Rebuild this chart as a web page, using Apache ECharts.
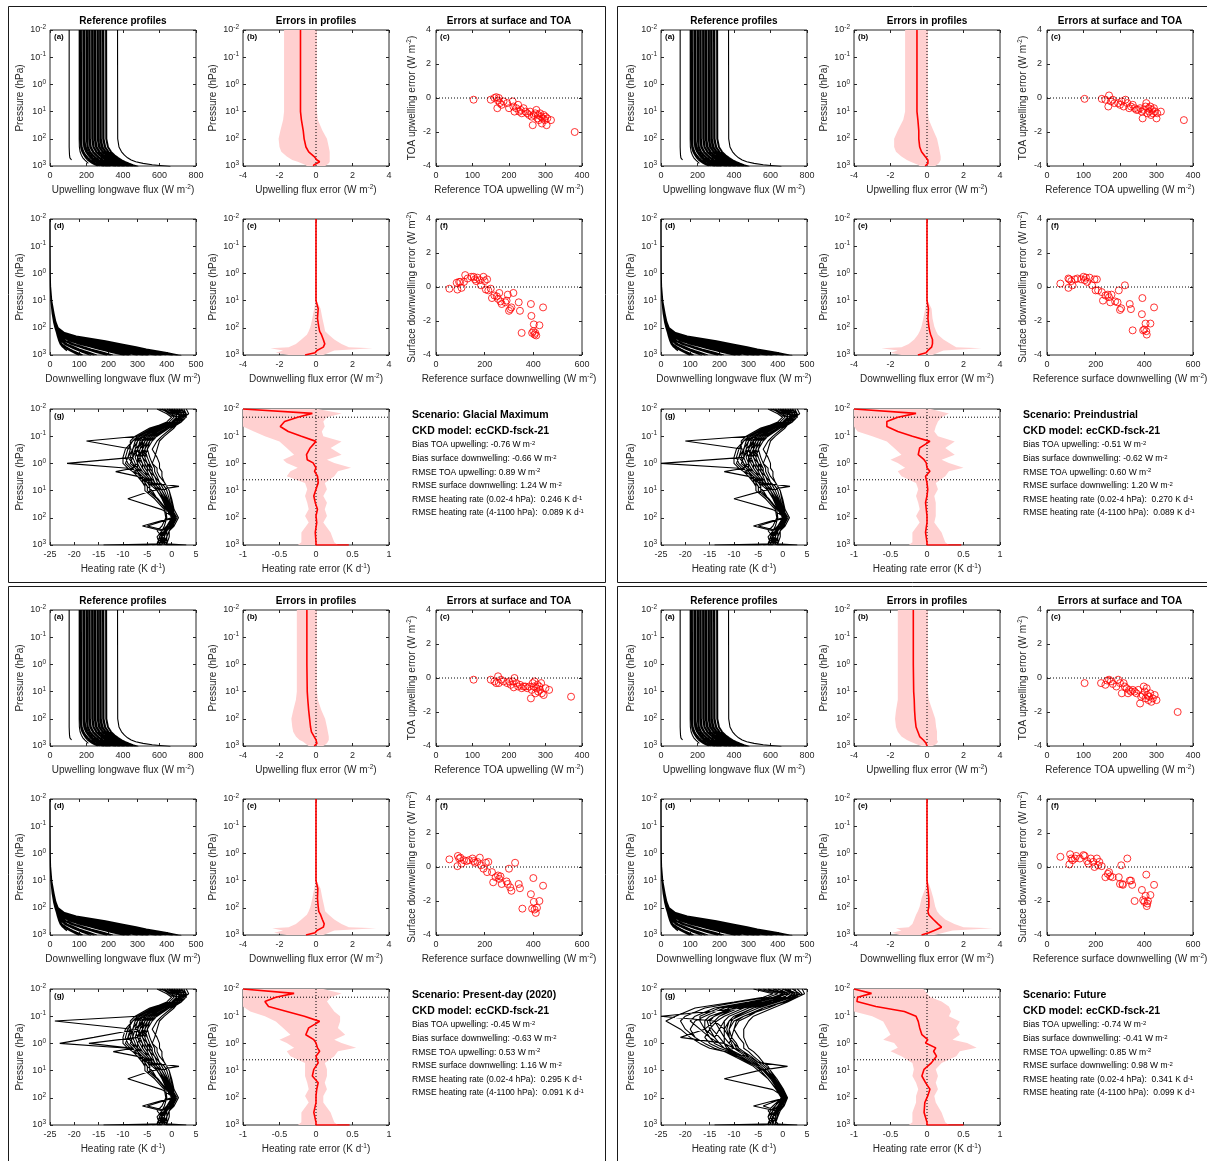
<!DOCTYPE html>
<html>
<head>
<meta charset="utf-8">
<script src="https://cdn.jsdelivr.net/npm/echarts@6/dist/echarts.min.js"></script>
<style>
  html, body { margin: 0; padding: 0; background: #fff; }
  #main { width: 1207px; height: 1161px; }
</style>
</head>
<body>
<div id="main"></div>
<script>
// ---- scenario text ----
const SCENARIOS = ['Glacial Maximum', 'Preindustrial', 'Present-day (2020)', 'Future'];
const CKD_MODEL = 'ecCKD-fsck-21';
// bias TOA up, bias sfc down, rmse TOA up, rmse sfc down, rmse hr 0.02-4, rmse hr 4-1100
const STATS_GM = [-0.76, -0.66, 0.89, 1.24, 0.246, 0.089];
const STATS_PI = [-0.51, -0.62, 0.60, 1.20, 0.270, 0.089];
const STATS_PD = [-0.45, -0.63, 0.53, 1.16, 0.295, 0.091];
const STATS_FU = [-0.74, -0.41, 0.85, 0.98, 0.341, 0.099];

// ---- reference upwelling profiles (flux at each pressure level, null = below ground) ----
const P_UP = [0.01, 100, 200, 300, 400, 500, 600, 700, 800, 900, 1000, 1050];
const UP_PROFILES = [
  [105, 105, 105, 106, 107, 109, 118, null, null, null, null, null],
  [160, 160, 161, 165, 172, 180, 190, 200, 210, null, null, null],
  [165, 166, 168, 175, 185, 195, 205, 218, 230, 245, 262, null],
  [168, 169, 172, 180, 191, 203, 214, 227, 240, 256, 273, null],
  [172, 173, 176, 185, 197, 210, 222, 235, 250, 268, 285, 295],
  [180, 181, 185, 195, 208, 220, 232, 246, 262, 280, 300, 310],
  [185, 186, 190, 201, 215, 228, 241, 255, 272, 290, 310, 320],
  [190, 191, 196, 208, 222, 236, 250, 265, 282, 300, 320, 330],
  [198, 199, 203, 215, 230, 245, 260, 276, 295, 315, 335, null],
  [201, 202, 206, 218, 234, 250, 265, 282, 301, 322, 344, 354],
  [205, 206, 210, 222, 238, 254, 270, 288, 308, 330, 352, 362],
  [212, 213, 218, 232, 248, 265, 282, 300, 320, 342, 365, 375],
  [216, 217, 222, 236, 253, 270, 287, 305, 325, 347, 370, 380],
  [220, 221, 226, 240, 258, 275, 292, 310, 330, 352, 375, 385],
  [228, 229, 235, 250, 268, 286, 304, 322, 342, 364, 388, 398],
  [232, 233, 239, 254, 272, 291, 310, 328, 348, 371, 394, 404],
  [235, 236, 242, 258, 277, 296, 315, 334, 355, 378, 400, 410],
  [242, 243, 250, 266, 286, 305, 325, 345, 366, 390, 413, 423],
  [246, 247, 254, 270, 290, 310, 330, 350, 371, 395, 419, 429],
  [250, 251, 258, 275, 295, 315, 335, 355, 377, 400, 425, 435],
  [258, 259, 266, 284, 304, 324, 344, 365, 387, 410, 435, 445],
  [261, 262, 270, 288, 308, 328, 349, 370, 392, 416, 441, 451],
  [265, 266, 274, 292, 313, 333, 354, 375, 398, 422, 447, 457],
  [272, 273, 281, 300, 321, 342, 363, 384, 407, 431, 455, 465],
  [276, 277, 285, 304, 325, 346, 367, 388, 410, 434, 458, null],
  [280, 281, 290, 308, 330, 350, 371, 392, 414, 438, 462, 470],
  [288, 289, 298, 316, 337, 357, 377, 398, 420, 443, 466, 475],
  [292, 293, 302, 320, 340, 360, 380, 400, 422, 445, 468, 476],
  [295, 296, 305, 323, 343, 363, 383, 403, 425, 448, 470, 478],
  [305, 306, 315, 332, 350, 368, 386, 405, 425, 445, 465, null],
  [310, 311, 320, 337, 356, 375, 394, 414, 434, 455, 476, 484],
  [370, 371, 378, 392, 408, 425, 445, 470, 510, 560, 630, 660]
];

// ---- reference downwelling profiles ----
const P_DN = [0.01, 0.1, 1, 3, 10, 30, 60, 100, 150, 200, 300, 400, 500, 600, 700, 800, 900, 1000, 1050];
const DN_PROFILES = [
  [0, 0.1, 0.8, 2, 6, 14, 20, 28, 50, 90, 190, 250, 295, 330, 365, 395, 420, 440, 450],
  [0, 0.1, 0.75, 1.95, 5.8, 13.5, 19.5, 27.5, 48, 88, 185, 245, 290, 325, 360, 390, 415, 436, 445],
  [0, 0.1, 0.7, 1.9, 5.5, 12.5, 19, 27, 47, 85, 180, 240, 285, 320, 355, 385, 410, 432, 440],
  [0, 0.1, 0.7, 2, 5.5, 13, 19, 26, 45, 80, 175, 235, 280, 315, 348, 378, 402, 425, 435],
  [0, 0.1, 0.65, 1.7, 5, 12, 18, 25, 42, 75, 165, 225, 270, 305, 336, 365, 389, 410, 420],
  [0, 0.1, 0.7, 1.8, 5, 12, 18, 25, 40, 70, 155, 215, 260, 295, 325, 352, 376, 398, null],
  [0, 0.1, 0.6, 1.6, 4.8, 11.5, 17.5, 24, 38, 65, 142, 200, 245, 280, 310, 338, 362, 385, null],
  [0, 0.1, 0.6, 1.6, 4.5, 11, 17, 24, 36, 60, 130, 190, 235, 268, 298, 325, 348, 370, 380],
  [0, 0.1, 0.6, 1.55, 4.6, 11, 16.5, 23.5, 35, 56, 120, 178, 222, 255, 284, 310, 333, 355, 365],
  [0, 0.1, 0.6, 1.5, 4.5, 11, 16, 23, 33, 52, 110, 165, 210, 242, 270, 296, 318, 340, null],
  [0, 0.1, 0.55, 1.45, 4.2, 10.5, 16, 22.5, 32, 48, 100, 152, 196, 228, 256, 282, 304, 325, 335],
  [0, 0.1, 0.6, 1.5, 4, 10, 16, 22, 31, 45, 92, 140, 183, 215, 243, 268, 290, 310, 320],
  [0, 0.1, 0.5, 1.4, 4.2, 10, 15.5, 22, 30, 42, 85, 130, 170, 200, 228, 252, 274, 293, 300],
  [0, 0.1, 0.5, 1.4, 4, 10, 15, 21, 29, 40, 78, 120, 160, 190, 215, 238, 258, 276, null],
  [0, 0.1, 0.5, 1.35, 3.9, 9.8, 15, 21, 28.5, 38, 70, 110, 148, 176, 201, 224, 244, 262, 270],
  [0, 0.1, 0.5, 1.3, 3.8, 9.5, 15, 21, 28, 37, 65, 100, 135, 163, 188, 210, 230, 248, 255],
  [0, 0.1, 0.5, 1.3, 3.5, 9, 14, 20, 27, 34, 55, 85, 115, 140, 163, 183, 200, 215, null],
  [0, 0.1, 0.5, 1.25, 3.6, 9.2, 14.5, 20.5, 26.5, 33, 52, 78, 106, 130, 151, 170, 187, 202, 208],
  [0, 0.1, 0.5, 1.2, 3.5, 9, 14, 20, 26, 32, 48, 72, 98, 120, 140, 158, 175, 190, 195],
  [0, 0.1, 0.5, 1.2, 3.3, 8.5, 13, 19, 25, 30, 42, 60, 82, 100, 118, 134, 148, 160, null],
  [0, 0.1, 0.45, 1.15, 3.3, 8.8, 13.5, 19.5, 24.5, 29, 40, 55, 74, 91, 108, 123, 136, 148, 152],
  [0, 0.1, 0.4, 1.1, 3.2, 8.5, 13, 19, 24, 28, 37, 50, 67, 83, 98, 112, 125, 135, 140],
  [0, 0.1, 0.4, 1.1, 3, 8, 12, 18, 23, 27, 33, 42, 55, 68, 80, 92, 103, 112, null],
  [0, 0.1, 0.4, 1.05, 3, 8, 12.5, 18, 22.5, 26.5, 32, 40, 51, 62, 74, 85, 96, 104, 108],
  [0, 0.1, 0.4, 1, 3, 8, 12, 18, 22, 26, 31, 38, 47, 57, 68, 78, 88, 96, 100],
  [0, 0.1, 0.4, 1, 2.8, 7.5, 12, 17, 22, 25, 30, 35, 42, 50, 58, null, null, null, null]
];

// ---- reference heating-rate profiles ----
const P_HR = [0.01, 0.015, 0.02, 0.03, 0.05, 0.1, 0.15, 0.3, 0.6, 1, 1.5, 2, 3, 5, 7, 10, 20, 50, 100, 200, 300, 500, 900, 1000];
const HR_BASE = [
  [2, 3, 2.5, 1, -1, -3, -4, -5, -4.5, -4, -3.5, -3.5, -3, -2.5, -2, -1.5, -0.8, 0, 0.5, -0.5, -1, -1.5, -2, -1],
  [-2, 0, 1, 0.5, -2, -5, -6, -7, -7.5, -7, -6.5, -6, -5, -4, -3, -2.5, -1.5, -0.5, 0.2, -1, -1.5, -2, -2.5, -4],
  [1, 2.5, 3, 2, 0, -2, -3, -4, -3, -2.5, -2.5, -2, -2, -1.5, -1, -0.5, -0.2, 0.3, 0.8, 0, -0.5, -1, -1, 1],
  [-3, -1, 0, -1, -4, -7, -8, -9, -9.5, -9, -8, -7.5, -6.5, -5.5, -5, -5, -3, -1.2, -1, -1.5, -2, -2.5, -3, -6],
  [0, 2, 2, 1.5, -1, -4, -5, -6, -5.5, -5, -5, -4.5, -4, -3.5, -3, -2.5, -1.5, -0.5, 0.5, -0.5, -1.5, -1.5, -2, -2],
  [3, 3.5, 2.5, 1, -2, -4, -5.5, -6.5, -7, -6.5, -6, -5.5, -4.5, -3.5, -3, -2, -1, 0, 0.7, 0, -1, -2, -2.5, -3],
  [-1, 1, 2, 0.5, -3, -6, -7, -8, -8, -8.5, -7.5, -6.5, -5.5, -4.5, -3.5, -3, -2, -0.8, 0.3, -0.5, -1.5, -2.5, -1.5, 2],
  [1.5, 3, 3, 2, -0.5, -3, -4.5, -5.5, -6, -5, -4, -4, -3.5, -3, -2.5, -2, -1, -0.3, 0.8, 0.3, -0.5, -1, -1.5, -14],
  [-2.5, 0.5, 1.5, 0, -3.5, -6.5, -8, -9.5, -10, -10, -9, -8, -7, -6, -5.5, -5.5, -3.5, -1.5, -1.2, -2, -3, -2, -1, -3],
  [0.5, 1.5, 2, 1, -1.5, -5, -6.5, -7, -6, -5.5, -5.5, -5, -4.5, -4, -3, -2.5, -1.5, -0.5, 0.5, 0, -1, -1, -1.5, 0],
  [2.5, 3, 1.5, 0, -2.5, -5.5, -6, -6, -6.5, -7, -7, -6.5, -5.5, -4, -3.5, -3, -2, -0.7, 0.2, -1, -1, -2, -3, -5],
  [-1.5, 0, 0.5, -0.5, -4.5, -7.5, -8.5, -8.5, -9, -9.5, -8.5, -7, -6, -5, -4.5, -4.5, -2.8, -1, 0, -1, -2, -3, -2.5, -8],
  [1, 2.5, 2.5, 1.5, 0.5, -1.5, -2.5, -3, -3.5, -4, -3, -3, -2.5, -1.5, -1, -0.5, 0, 0.5, 1.4, 0.5, -0.5, -0.5, -1, 3],
  [-0.5, 1, 2.5, 1.5, -1.5, -4.5, -6, -7.5, -7, -6, -6, -5.5, -5, -4, -3.5, -3, -1.8, -0.6, 0.3, -0.5, -1, -1.5, -2, -2.5],
  [2, 2.5, 2, 0.5, -2, -6, -7.5, -8, -8.5, -8, -7.5, -7, -6.5, -5, -4, -3, -2, -0.8, 0, -0.8, -1.5, -2, -2, -1],
  [0, 1, 1, 0, -2.5, -4, -5, -5.5, -5, -4.5, -4.5, -4.5, -3.5, -3, -2.5, -2, -1.2, -0.4, 0.6, -0.3, -1, -1.5, -2.5, -4],
  [1.5, 2, 1.5, 0.5, -2, -4.5, -5.5, -6, -6, -5.5, -5, -5, -4.5, -3.5, -3, -2, -1.2, -0.3, 0.6, 0, -1, -1.5, -2, -2],
  [-1, 0.5, 1.5, 0.5, -3, -5.5, -7, -7.5, -8, -7.5, -7, -6, -5, -4, -3.5, -2.5, -1.5, -0.6, 0.4, -0.5, -1.5, -2, -2, 1.5],
  [2, 3, 3, 1.5, -0.5, -3.5, -5, -6, -5, -4.5, -4, -4, -3.5, -2.5, -1.5, -1, -0.5, 0.1, 1.1, 0.2, -0.5, -1, -1.5, -7],
  [-2, -0.5, 0.5, -0.5, -4, -6.5, -7.5, -8, -8.5, -8, -7.5, -7, -6, -4.5, -4, -3, -2, -0.9, 0.1, -1, -2, -2.5, -3, -2],
  [0.5, 2, 2.5, 1, -1, -3.5, -4.5, -5, -5.5, -5, -4.5, -4, -3.5, -3, -2.5, -2, -1, -0.2, 0.7, 0, -0.5, -1, -2, 1],
  [3, 3.5, 2, 0, -3, -6, -6.5, -7, -7.5, -7, -6.5, -6, -5, -4, -3, -2.5, -1.7, -0.6, 0.2, -0.8, -1.5, -1.5, -1.5, -10],
  [-0.5, 1.5, 2, 1, -2, -5, -6.5, -7, -6.5, -6, -5.5, -5, -4.5, -3.5, -3, -2.5, -1.4, -0.4, 0.5, -0.2, -1, -2, -2.5, 0],
  [1, 2.5, 2, 0.5, -1.5, -4.5, -6, -6.5, -7, -6.5, -6, -5.5, -5, -4, -3, -2.5, -1.5, -0.5, 0.4, -0.3, -1.2, -2, -2, -4]
];
const HR_GM_EXTRA = [
  [-1, 1, 1, 0, -3, -7, -17.5, -8, -9, -8, -7, -6, -5, -4, -3.5, -3, -2, -1, 0, -1, -1.5, -2, -2, -3],
  [0, 2, 2, 0.5, -2, -5, -6, -7, -8, -21.5, -9, -8, -6, -6, -5, -4, -3, -1, 0, -6, -2, -2, -2.5, -3],
  [1, 2, 2, 1, -1, -4, -5, -6, -7, -7, -8, -11.5, -7, -5, 1.5, -4, -9, -2, 0.5, -5, -1, -2, -2, 2.5]
];
const HR_PI_EXTRA = [
  [-1, 1, 1, 0, -3, -7, -20, -8, -9, -8, -7, -6, -5, -4, -3.5, -3, -2, -1, 0, -1, -1.5, -2, -2, -3],
  [0, 2, 2, 0.5, -2, -5, -6, -7, -8, -25, -9, -8, -6, -6, -5, -4, -3, -1, 0, -6, -2, -2, -2.5, -3],
  [1, 2, 2, 1, -1, -4, -5, -6, -7, -7, -8, -12, -7, -5, 1.5, -4, -10, -2, 0.5, -5, -1, -2, -2, 2.5]
];
const HR_PD_EXTRA = [
  [-1, 1, 1, 0, -3, -7, -24, -8, -9, -8, -7, -6, -5, -4, -3.5, -3, -2, -1, 0, -1, -1.5, -2, -2, -3],
  [0, 2, 2, 0.5, -2, -5, -6, -7, -16, -23, -9, -8, -6, -6, -5, -4, -3, -1, 0, -6, -2, -2, -2.5, -3],
  [1, 2, 2, 1, -1, -4, -5, -6, -7, -17, -8, -12, -7, -5, 1.5, -4, -9, -2, 0.5, -5, -1, -2, -2, 2.5]
];
const HR_FU = [
  [3, 4, 2, -1, -5, -9, -11, -12, -11, -10, -9, -8, -6.5, -5, -4, -3, -1.5, -0.3, 0.5, -0.5, -1, -1.5, -2, -1],
  [-4, 0, -2, -7, -14, -18, -19, -17, -15, -13, -12, -10, -8, -6, -5, -4, -2.5, -1, 0, -1.5, -2, -2.5, -3, -5],
  [1, 3, 3, 0, -4, -7, -9, -10, -9, -8, -8, -7, -6, -4.5, -3.5, -2.5, -1.5, 0, 0.8, 0, -1, -1.5, -1.5, 2],
  [-6, -2, -4, -10, -18, -22, -24, -21, -19, -17, -15, -12, -9, -7, -5.5, -4.5, -3, -1.2, -0.2, -2, -3, -2, -1, -8],
  [2, 3.5, 1, -2, -7, -11, -12, -13, -14, -13, -12, -10, -8, -6, -4.5, -3.5, -2, -0.5, 0.5, -0.5, -1.5, -2, -2.5, -3],
  [-1, 1.5, 0, -4, -10, -15, -16, -16, -15, -14, -12, -10.5, -8.5, -6.5, -5, -4, -2.5, -0.8, 0.2, -1, -1.5, -2.5, -2, 1],
  [4, 4.5, 3, 1, -2, -6, -7, -8, -8, -7.5, -7, -6, -5, -4, -3, -2.5, -1.2, 0.2, 1, 0.3, -0.5, -1, -1.5, -14],
  [-3, 0.5, -1, -6, -12, -16, -18, -19, -18, -16, -14, -12, -9.5, -7, -5.5, -4, -2.5, -1, 0, -1, -2, -3, -2.5, -2],
  [0, 2.5, 2, -1.5, -6, -10, -11, -11.5, -11, -10.5, -10, -9, -7.5, -5.5, -4.5, -3.5, -2, -0.5, 0.3, -0.8, -1.5, -1.5, -2, -4],
  [-2, 1, -1, -5, -11, -14, -15, -14.5, -13, -12, -11, -10, -8, -6, -4.5, -3.5, -2, -0.6, 0.4, -0.3, -1, -2, -3, 0],
  [2.5, 3, 2.5, 0, -3, -8, -9.5, -10, -10.5, -11, -10, -8.5, -7, -5, -4, -3, -1.8, -0.3, 0.6, 0, -1, -1.5, -1.5, -6],
  [-5, -1, -3, -9, -16, -20, -21, -20, -18, -16, -14, -12, -10, -7.5, -6, -5, -3, -1.3, -0.3, -1.5, -2.5, -3, -2.5, -3],
  [1.5, 2, 1.5, -2, -8, -12, -13.5, -15, -16, -15, -13, -11, -9, -6.5, -5, -4, -2.5, -0.8, 0.2, -1, -1.5, -2, -2, 3],
  [-1.5, 0, -0.5, -3, -9, -13, -14, -13, -12, -12, -11.5, -10, -8, -6, -4.5, -3.5, -2, -0.5, 0.5, 0, -1, -1.5, -2, -2],
  [0.5, 2.5, 1.5, -2, -7, -11, -12, -12, -12, -11, -10, -9, -7.5, -5.5, -4.5, -3.5, -2, -0.6, 0.4, -0.5, -1.2, -2, -2, -1.5],
  [-3, 0, -1.5, -6, -13, -17, -17, -16, -14, -13, -12, -10.5, -8.5, -6.5, -5, -4, -2.5, -0.9, 0.1, -1, -2, -2.5, -2, -3],
  [2, 3.5, 2.5, 0.5, -4, -8, -10, -11, -10.5, -9.5, -9, -8, -6.5, -5, -4, -3, -1.6, -0.2, 0.6, 0.1, -0.8, -1.2, -1.5, -9],
  [-1, 1, 0.5, -3.5, -10, -14, -15.5, -15, -14, -13, -12, -10, -8, -6, -5, -3.8, -2.2, -0.7, 0.3, -0.8, -1.5, -2, -2.5, 1.5],
  [1, 3, 2, -1, -6, -9.5, -10.5, -11, -11, -10, -9.5, -8.5, -7, -5, -4, -3, -1.8, -0.4, 0.5, -0.3, -1, -1.5, -2, -5],
  [0, 2, 1, -3, -8, -25, -14, -12, -11, -10, -9, -8, -7, -5, -4, -3, -2, -0.5, 0.3, -4, -1, -2, -2, -1],
  [-2, 1, -1, -5, -10, -13, -14, -16, -21, -12, -10, -12, -7, -5, 1, -5, -12, -2, 0.5, -6, -1.5, -2, -2, 2.5]
];

// ---- upwelling flux error profiles (median, min, max) ----
const P_UPERR = [0.01, 1, 10, 20, 50, 100, 200, 300, 450, 600, 700, 800, 900, 1000];
const UPERR_MED_GM = [-0.85, -0.85, -0.85, -0.8, -0.7, -0.65, -0.55, -0.4, -0.1, 0.05, 0.2, 0.05, -0.1, -0.15];
const UPERR_LO_GM = [-1.75, -1.75, -1.75, -1.8, -1.95, -2.05, -2.0, -1.9, -1.6, -1.3, -1.0, -0.8, -0.6, -0.5];
const UPERR_HI_GM = [0.05, 0.05, 0.05, 0.1, 0.35, 0.6, 0.7, 0.75, 0.75, 0.75, 0.75, 0.7, 0.6, 0.5];
const UPERR_MED_PI = [-0.55, -0.55, -0.55, -0.5, -0.45, -0.45, -0.4, -0.3, -0.1, 0.05, 0.15, 0.05, -0.05, -0.1];
const UPERR_LO_PI = [-1.2, -1.2, -1.2, -1.3, -1.6, -1.8, -1.8, -1.7, -1.4, -1.1, -0.9, -0.7, -0.5, -0.4];
const UPERR_HI_PI = [0.05, 0.05, 0.05, 0.1, 0.35, 0.55, 0.65, 0.7, 0.75, 0.75, 0.7, 0.65, 0.55, 0.45];
const UPERR_MED_PD = [-0.5, -0.5, -0.48, -0.45, -0.4, -0.35, -0.3, -0.25, -0.1, 0.0, 0.1, 0.05, -0.05, -0.1];
const UPERR_LO_PD = [-1.05, -1.05, -1.05, -1.1, -1.25, -1.35, -1.3, -1.25, -1.1, -0.9, -0.7, -0.6, -0.5, -0.4];
const UPERR_HI_PD = [0.05, 0.05, 0.05, 0.1, 0.3, 0.5, 0.6, 0.65, 0.7, 0.7, 0.65, 0.6, 0.5, 0.4];
const UPERR_MED_FU = [-0.75, -0.75, -0.73, -0.7, -0.68, -0.65, -0.6, -0.5, -0.4, -0.2, -0.1, -0.05, 0, 0];
const UPERR_LO_FU = [-1.6, -1.6, -1.6, -1.6, -1.7, -1.75, -1.7, -1.6, -1.4, -1.1, -0.9, -0.7, -0.5, -0.3];
const UPERR_HI_FU = [0.05, 0.05, 0.05, 0.1, 0.3, 0.45, 0.5, 0.55, 0.55, 0.55, 0.6, 0.55, 0.45, 0.3];

// ---- downwelling flux error profiles ----
const P_DNERR = [0.01, 10, 20, 45, 90, 135, 180, 270, 390, 515, 560, 680, 830, 1000];
const DNERR_MED_GM = [0, 0, 0.12, 0.08, 0.15, 0.2, 0.3, 0.4, 0.48, 0.4, 0.3, 0.05, -0.05, -0.6];
const DNERR_LO_GM = [-0.02, -0.03, -0.1, -0.2, -0.3, -0.4, -0.5, -0.8, -1.1, -1.5, -2.5, -1.8, -2.2, -1.5];
const DNERR_HI_GM = [0.02, 0.03, 0.25, 0.35, 0.45, 0.5, 0.7, 1.0, 1.4, 1.8, 3.1, 1.0, 0.7, 0.4];
const DNERR_MED_PI = [0, 0, 0.08, 0.05, 0.1, 0.15, 0.2, 0.3, 0.3, 0.25, 0.2, 0.05, -0.05, -0.5];
const DNERR_LO_PI = [-0.02, -0.03, -0.1, -0.2, -0.3, -0.4, -0.5, -0.7, -1.0, -1.4, -2.5, -1.6, -2.0, -1.4];
const DNERR_HI_PI = [0.02, 0.03, 0.25, 0.3, 0.4, 0.5, 0.6, 0.9, 1.3, 1.6, 3.0, 0.9, 0.6, 0.3];
const DNERR_MED_PD = [0, 0, 0.1, 0.08, 0.12, 0.15, 0.25, 0.35, 0.45, 0.4, 0.3, 0.05, -0.05, -0.55];
const DNERR_LO_PD = [-0.02, -0.03, -0.1, -0.2, -0.3, -0.4, -0.5, -0.8, -1.1, -1.5, -2.4, -1.8, -2.3, -1.6];
const DNERR_HI_PD = [0.02, 0.03, 0.25, 0.35, 0.45, 0.5, 0.7, 1.0, 1.4, 1.8, 3.3, 1.0, 0.7, 0.4];
const DNERR_MED_FU = [0, 0, 0.05, 0.1, 0.1, 0.05, 0.1, 0.35, 0.6, 0.8, 0.75, 0.4, 0.1, -0.3];
const DNERR_LO_FU = [-0.02, -0.03, -0.1, -0.3, -0.4, -0.5, -0.6, -0.7, -0.8, -1.0, -1.7, -1.4, -1.9, -1.5];
const DNERR_HI_FU = [0.02, 0.03, 0.2, 0.35, 0.45, 0.55, 0.7, 1.0, 1.5, 2.0, 3.6, 1.4, 0.9, 0.4];

// ---- heating rate error profiles ----
const P_HRERR = [0.01, 0.0145, 0.02, 0.029, 0.044, 0.067, 0.1, 0.155, 0.27, 0.48, 0.73, 0.96, 1.46, 1.94, 2.95, 5.2, 9, 15.8, 27.8, 48.6, 85, 150, 345, 795, 990, 1000];
const HRERR_MED_GM = [-1, -0.05, -0.25, -0.43, -0.49, -0.38, -0.2, 0, -0.08, -0.13, -0.12, -0.04, 0, -0.02, 0.02, 0.03, 0, -0.03, -0.01, 0.02, 0, 0.01, -0.01, 0, 0, 0.45];
const HRERR_LO_GM = [-1, -1, -1, -1, -1, -0.85, -0.7, -0.5, -0.4, -0.3, -0.45, -0.4, -0.25, -0.35, -0.4, -0.15, -0.12, -0.15, -0.12, -0.1, -0.15, -0.1, -0.2, -0.2, -0.25, -0.1];
const HRERR_HI_GM = [0.02, 0.35, 0.15, 0.1, 0.12, 0.08, 0.1, 0.35, 0.2, 0.35, 0.15, 0.25, 0.48, 0.3, 0.25, 0.12, 0.15, 0.1, 0.15, 0.12, 0.15, 0.1, 0.2, 0.25, 0.3, 0.45];
const HRERR_MED_PI = [-1, -0.15, -0.4, -0.55, -0.55, -0.4, -0.2, 0.04, -0.1, -0.12, -0.04, -0.01, 0, 0.04, -0.02, 0, 0.01, 0, -0.02, -0.01, 0, 0, -0.02, 0, 0, 0.47];
const HRERR_LO_PI = [-1, -1, -1, -1, -1, -0.95, -0.75, -0.55, -0.45, -0.35, -0.5, -0.4, -0.3, -0.4, -0.35, -0.15, -0.12, -0.15, -0.12, -0.1, -0.15, -0.1, -0.2, -0.2, -0.25, -0.1];
const HRERR_HI_PI = [0.05, 0.3, 0.2, 0.15, 0.12, 0.1, 0.15, 0.38, 0.25, 0.38, 0.2, 0.3, 0.5, 0.3, 0.25, 0.12, 0.15, 0.1, 0.12, 0.12, 0.12, 0.1, 0.2, 0.25, 0.3, 0.47];
const HRERR_MED_PD = [-1, -0.3, -0.55, -0.7, -0.65, -0.4, -0.16, 0.05, -0.1, -0.14, -0.03, 0, 0.02, 0.05, 0, 0.03, -0.03, -0.05, 0.03, 0.01, 0, 0, -0.03, 0, 0, 0.46];
const HRERR_LO_PD = [-1, -1, -1, -1, -1, -0.9, -0.7, -0.55, -0.45, -0.35, -0.5, -0.4, -0.3, -0.4, -0.35, -0.15, -0.15, -0.15, -0.12, -0.1, -0.15, -0.1, -0.2, -0.2, -0.25, -0.1];
const HRERR_HI_PD = [0.1, 0.35, 0.2, 0.15, 0.2, 0.25, 0.33, 0.33, 0.3, 0.4, 0.25, 0.35, 0.55, 0.3, 0.25, 0.12, 0.15, 0.15, 0.12, 0.15, 0.1, 0.1, 0.2, 0.25, 0.3, 0.5];
const HRERR_MED_FU = [-1, -0.76, -0.95, -0.96, -0.7, -0.31, -0.15, -0.12, -0.1, -0.07, 0.01, -0.02, 0.12, 0.09, 0.13, 0.06, -0.04, -0.07, -0.02, 0.04, 0.01, -0.03, -0.04, 0, 0, 0.5];
const HRERR_LO_FU = [-1, -1, -1, -1, -1, -1, -0.75, -0.6, -0.55, -0.5, -0.6, -0.45, -0.4, -0.5, -0.35, -0.2, -0.18, -0.2, -0.15, -0.12, -0.15, -0.15, -0.2, -0.2, -0.25, -0.1];
const HRERR_HI_FU = [-0.05, 0.0, 0.05, 0.2, 0.3, 0.33, 0.3, 0.45, 0.4, 0.45, 0.35, 0.55, 0.68, 0.45, 0.4, 0.2, 0.12, 0.15, 0.12, 0.15, 0.1, 0.12, 0.2, 0.25, 0.3, 0.55];

// ---- scatter: [reference TOA upwelling, error] ----
const TOA_ERR_GM = [[103,-0.1],[150,-0.1],[160,0.0],[165,0.05],[172,0.0],[170,-0.15],[175,-0.3],[168,-0.6],[180,-0.4],[185,-0.2],[200,-0.6],[195,-0.3],[210,-0.2],[212,-0.5],[215,-0.8],[220,-0.6],[225,-0.4],[228,-0.8],[232,-0.7],[235,-0.9],[240,-0.6],[245,-0.8],[250,-0.9],[255,-1.0],[258,-0.8],[262,-1.1],[265,-1.6],[268,-1.0],[272,-0.9],[275,-0.7],[278,-1.2],[280,-1.0],[282,-1.3],[285,-0.9],[288,-1.1],[290,-1.5],[292,-1.2],[295,-1.0],[298,-1.3],[300,-1.1],[303,-1.6],[305,-1.2],[315,-1.3],[380,-2.0]];
const TOA_ERR_PI = [[103,-0.05],[150,-0.05],[160,-0.1],[170,0.15],[168,-0.5],[175,-0.2],[180,-0.1],[185,-0.3],[195,-0.3],[200,-0.4],[205,-0.2],[210,-0.5],[215,-0.1],[220,-0.3],[225,-0.6],[230,-0.5],[235,-0.4],[240,-0.6],[245,-0.7],[250,-0.7],[255,-0.6],[260,-0.8],[262,-1.2],[265,-0.7],[270,-0.5],[272,-0.3],[275,-0.9],[278,-0.6],[280,-0.8],[283,-0.5],[285,-1.0],[288,-0.7],[290,-0.9],[293,-0.6],[296,-0.8],[300,-1.2],[302,-0.9],[312,-0.8],[375,-1.3]];
const TOA_ERR_PD = [[103,-0.1],[150,-0.1],[160,-0.2],[165,-0.3],[170,0.1],[172,-0.3],[178,-0.1],[185,-0.2],[195,-0.3],[200,-0.2],[205,-0.4],[210,-0.2],[213,-0.55],[215,0.0],[220,-0.3],[225,-0.5],[230,-0.4],[235,-0.6],[240,-0.5],[245,-0.5],[250,-0.6],[255,-0.5],[260,-1.2],[262,-0.7],[265,-0.3],[268,-0.5],[270,-0.2],[272,-0.9],[275,-0.6],[278,-0.4],[280,-0.8],[283,-0.5],[285,-0.7],[288,-0.3],[290,-0.9],[295,-1.0],[300,-0.6],[310,-0.7],[370,-1.1]];
const TOA_ERR_FU = [[103,-0.3],[148,-0.3],[160,-0.4],[165,-0.15],[170,-0.1],[175,-0.2],[180,-0.35],[190,-0.5],[195,-0.1],[200,-0.3],[205,-0.9],[210,-0.3],[213,-0.5],[218,-0.6],[222,-0.9],[225,-0.7],[230,-0.8],[235,-0.7],[240,-0.8],[245,-0.9],[250,-0.7],[255,-1.5],[258,-1.1],[262,-1.0],[265,-0.5],[268,-0.8],[270,-1.2],[273,-0.6],[275,-1.0],[278,-1.3],[280,-1.1],[283,-0.9],[286,-1.4],[290,-1.2],[295,-1.0],[300,-1.3],[358,-2.0]];

// ---- scatter: [reference surface downwelling, error] ----
const SFC_ERR_GM = [[55,-0.1],[85,0.25],[88,-0.15],[95,0.3],[100,0.3],[105,-0.05],[115,0.3],[120,0.7],[130,0.5],[145,0.6],[155,0.6],[160,0.45],[165,0.35],[170,0.55],[180,0.4],[185,0.1],[195,0.6],[200,0.35],[205,-0.15],[210,0.45],[215,-0.2],[225,-0.1],[230,-0.65],[240,-0.5],[250,-0.55],[255,-0.7],[260,-0.35],[265,-0.85],[270,-1.0],[285,-0.9],[290,-0.8],[295,-0.45],[300,-1.4],[305,-1.3],[310,-1.2],[318,-0.35],[340,-0.9],[345,-1.4],[352,-2.7],[390,-1.0],[392,-1.7],[395,-2.7],[400,-2.6],[402,-2.2],[405,-2.8],[408,-2.7],[412,-2.85],[425,-2.25],[440,-1.2]];
const SFC_ERR_PI = [[55,0.2],[88,-0.05],[88,0.5],[92,0.45],[100,0.35],[105,0.1],[115,0.45],[125,0.5],[140,0.45],[150,0.6],[155,0.4],[160,0.55],[165,0.3],[175,0.55],[185,0.1],[195,0.45],[200,-0.2],[205,0.45],[210,-0.2],[225,-0.3],[230,-0.8],[240,-0.5],[250,-0.45],[255,-0.6],[260,-0.9],[265,-0.45],[280,-0.85],[290,-0.9],[295,-0.2],[300,-1.35],[305,-1.25],[320,0.1],[340,-1.0],[345,-1.3],[352,-2.55],[390,-1.6],[392,-0.65],[395,-2.55],[400,-2.5],[405,-2.15],[408,-2.6],[410,-2.8],[425,-2.15],[440,-1.2]];
const SFC_ERR_PD = [[55,0.45],[88,0.05],[90,0.65],[95,0.5],[100,0.55],[105,0.2],[115,0.4],[125,0.35],[135,0.4],[150,0.5],[155,0.35],[160,0.25],[170,0.3],[180,0.55],[185,0.1],[195,-0.1],[205,0.25],[210,-0.3],[215,0.3],[230,-0.3],[235,-0.9],[245,-0.6],[255,-0.5],[260,-0.7],[265,-0.55],[270,-1.0],[290,-0.85],[295,-1.0],[300,-0.1],[305,-1.2],[310,-1.4],[325,0.25],[340,-1.0],[345,-1.25],[355,-2.45],[390,-1.6],[395,-2.45],[400,-0.65],[402,-2.05],[405,-2.5],[410,-2.7],[415,-2.4],[425,-2.0],[440,-1.1]];
const SFC_ERR_FU = [[55,0.6],[92,0.15],[95,0.75],[100,0.5],[105,0.4],[115,0.5],[120,0.65],[135,0.5],[150,0.7],[155,0.65],[165,0.35],[170,0.2],[180,0.5],[190,0.3],[195,0.0],[205,0.5],[210,0.1],[215,0.3],[225,0.05],[240,-0.6],[250,-0.4],[255,-0.3],[260,-0.55],[270,-0.6],[295,-0.6],[300,-1.0],[305,0.1],[310,-1.0],[312,-1.05],[330,0.5],[340,-0.8],[345,-0.8],[350,-1.05],[360,-2.0],[390,-1.35],[395,-1.95],[400,-2.05],[405,-1.7],[408,-0.45],[410,-2.3],[412,-2.15],[415,-2.0],[425,-1.65],[440,-1.05]];

// ---- assemble per scenario ----
const SC = [
  { name: SCENARIOS[0], stats: STATS_GM, toa: TOA_ERR_GM, sfc: SFC_ERR_GM, hr: HR_BASE.concat(HR_GM_EXTRA),
    up: [UPERR_MED_GM, UPERR_LO_GM, UPERR_HI_GM], dn: [DNERR_MED_GM, DNERR_LO_GM, DNERR_HI_GM], hre: [HRERR_MED_GM, HRERR_LO_GM, HRERR_HI_GM] },
  { name: SCENARIOS[1], stats: STATS_PI, toa: TOA_ERR_PI, sfc: SFC_ERR_PI, hr: HR_BASE.concat(HR_PI_EXTRA),
    up: [UPERR_MED_PI, UPERR_LO_PI, UPERR_HI_PI], dn: [DNERR_MED_PI, DNERR_LO_PI, DNERR_HI_PI], hre: [HRERR_MED_PI, HRERR_LO_PI, HRERR_HI_PI] },
  { name: SCENARIOS[2], stats: STATS_PD, toa: TOA_ERR_PD, sfc: SFC_ERR_PD, hr: HR_BASE.concat(HR_PD_EXTRA),
    up: [UPERR_MED_PD, UPERR_LO_PD, UPERR_HI_PD], dn: [DNERR_MED_PD, DNERR_LO_PD, DNERR_HI_PD], hre: [HRERR_MED_PD, HRERR_LO_PD, HRERR_HI_PD] },
  { name: SCENARIOS[3], stats: STATS_FU, toa: TOA_ERR_FU, sfc: SFC_ERR_FU, hr: HR_FU,
    up: [UPERR_MED_FU, UPERR_LO_FU, UPERR_HI_FU], dn: [DNERR_MED_FU, DNERR_LO_FU, DNERR_HI_FU], hre: [HRERR_MED_FU, HRERR_LO_FU, HRERR_HI_FU] }
];

const STAT_LABELS = ['Bias TOA upwelling: ', 'Bias surface downwelling: ', 'RMSE TOA upwelling: ',
  'RMSE surface downwelling: ', 'RMSE heating rate (0.02-4 hPa):  ', 'RMSE heating rate (4-1100 hPa):  '];
const STAT_UNITS = [' W m{s|-2}', ' W m{s|-2}', ' W m{s|-2}', ' W m{s|-2}', ' K d{s|-1}', ' K d{s|-1}'];
const STAT_DIGITS = [2, 2, 2, 2, 3, 3];

// ---- layout ----
const FONT = '"Liberation Sans", Arial, Helvetica, sans-serif';
const INK = '#262626';
const QUAD_OFF = [[0, 0], [611, 0], [0, 580], [611, 580]];
const COL_X = [50, 243, 436];
const ROW_Y = [30, 219, 409];
const PW = 146, PH = 136;
const SUP = { fontSize: 6.5, verticalAlign: 'top', lineHeight: 5, fontFamily: FONT, color: INK };

const PANELS = [
  { col: 0, row: 0, letter: 'a', x: [0, 800, 200], log: true, xname: 'Upwelling longwave flux (W m{s|-2})' },
  { col: 1, row: 0, letter: 'b', x: [-4, 4, 2], log: true, xname: 'Upwelling flux error (W m{s|-2})' },
  { col: 2, row: 0, letter: 'c', x: [0, 400, 100], y: [-4, 4, 2], xname: 'Reference TOA upwelling (W m{s|-2})', yname: 'TOA upwelling error (W m{s|-2})' },
  { col: 0, row: 1, letter: 'd', x: [0, 500, 100], log: true, xname: 'Downwelling longwave flux (W m{s|-2})' },
  { col: 1, row: 1, letter: 'e', x: [-4, 4, 2], log: true, xname: 'Downwelling flux error (W m{s|-2})' },
  { col: 2, row: 1, letter: 'f', x: [0, 600, 200], y: [-4, 4, 2], xname: 'Reference surface downwelling (W m{s|-2})', yname: 'Surface downwelling error (W m{s|-2})' },
  { col: 0, row: 2, letter: 'g', x: [-25, 5, 5], log: true, xname: 'Heating rate (K d{s|-1})' },
  { col: 1, row: 2, letter: 'h', x: [-1, 1, 0.5], log: true, xname: 'Heating rate error (K d{s|-1})' }
];
const COL_TITLES = ['Reference profiles', 'Errors in profiles', 'Errors at surface and TOA'];

const option = {
  animation: false,
  backgroundColor: '#fff',
  textStyle: { fontFamily: FONT },
  grid: [], xAxis: [], yAxis: [], series: [],
  graphic: { elements: [] }
};
const G = option.graphic.elements;

function txt(x, y, text, size, bold, align) {
  G.push({
    type: 'text', x: x, y: y, silent: true,
    style: {
      text: text, fontFamily: FONT, fontSize: size, fontWeight: bold ? 'bold' : 'normal',
      fill: '#000', align: align || 'left', verticalAlign: 'middle',
      rich: { s: { fontSize: size * 0.7, verticalAlign: 'top', lineHeight: 5, fontFamily: FONT, fill: '#000' } }
    }
  });
}

// series helpers
function profLines(profiles, levels) {
  const data = [];
  profiles.forEach(pr => {
    pr.forEach((v, i) => { if (v !== null && i < levels.length) data.push([v, levels[i]]); });
    data.push(['-', '-']);
  });
  return { type: 'line', data: data, showSymbol: false, symbol: 'none', silent: true, connectNulls: false,
    lineStyle: { color: '#000', width: 1.1 } };
}
function band(levels, lo, hi) {
  return {
    type: 'custom', silent: true, data: [[0, 1]],
    renderItem: function (params, api) {
      const pts = [];
      for (let i = 0; i < levels.length; i++) pts.push(api.coord([lo[i], levels[i]]));
      for (let i = levels.length - 1; i >= 0; i--) pts.push(api.coord([hi[i], levels[i]]));
      return { type: 'polygon', shape: { points: pts }, style: { fill: '#ffd0d0', stroke: null } };
    }
  };
}
function medLine(levels, med) {
  return { type: 'line', data: levels.map((p, i) => [med[i], p]), showSymbol: false, symbol: 'none', silent: true,
    lineStyle: { color: '#ff0000', width: 1.6 } };
}
function dotted(pts) {
  return { type: 'line', data: pts, showSymbol: false, symbol: 'none', silent: true,
    lineStyle: { color: '#000', width: 1, type: [1, 2] } };
}
function scatter(points) {
  return { type: 'scatter', data: points, symbol: 'circle', symbolSize: 7, silent: true,
    itemStyle: { color: 'rgba(255,255,255,0)', borderColor: '#ff0000', borderWidth: 1 } };
}

function addPanel(q, spec, seriesList) {
  const dx = QUAD_OFF[q][0], dy = QUAD_OFF[q][1];
  const left = COL_X[spec.col] + dx, top = ROW_Y[spec.row] + dy;
  const gi = option.grid.length;
  option.grid.push({ left: left, top: top, width: PW, height: PH, show: true, borderColor: INK, borderWidth: 1,
    backgroundColor: 'rgba(0,0,0,0)', containLabel: false, outerBoundsMode: 'none' });
  const tick = { show: true, inside: true, length: 3, lineStyle: { color: INK, width: 1 } };
  const noLine = { show: false, onZero: false };
  const xb = { gridIndex: gi, type: 'value', min: spec.x[0], max: spec.x[1], interval: spec.x[2],
    splitLine: { show: false }, axisLine: noLine, axisTick: tick };
  const xi = option.xAxis.length;
  option.xAxis.push(Object.assign({}, xb, {
    position: 'bottom',
    axisLabel: { margin: 5, fontSize: 9, color: INK, fontFamily: FONT },
    name: spec.xname, nameLocation: 'middle', nameGap: 18,
    nameTextStyle: { fontSize: 10, color: INK, fontFamily: FONT, lineHeight: 13, rich: { s: SUP } }
  }));
  option.xAxis.push(Object.assign({}, xb, { position: 'top', axisLabel: { show: false } }));

  const yb = spec.log
    ? { type: 'log', logBase: 10, min: 0.01, max: 1000, inverse: true }
    : { type: 'value', min: spec.y[0], max: spec.y[1], interval: spec.y[2] };
  Object.assign(yb, { gridIndex: gi, splitLine: { show: false }, axisLine: noLine, axisTick: tick });
  const yi = option.yAxis.length;
  option.yAxis.push(Object.assign({}, yb, {
    position: 'left',
    axisLabel: spec.log
      ? { margin: 4, fontSize: 9, color: INK, fontFamily: FONT, lineHeight: 12,
          formatter: v => '10{s|' + Math.round(Math.log10(v)) + '}', rich: { s: SUP } }
      : { margin: 5, fontSize: 9, color: INK, fontFamily: FONT },
    name: spec.log ? 'Pressure (hPa)' : spec.yname, nameLocation: 'middle', nameRotate: 90,
    nameGap: spec.log ? 15 : 10,
    nameTextStyle: { fontSize: 10, color: INK, fontFamily: FONT, lineHeight: 13, rich: { s: SUP } }
  }));
  option.yAxis.push(Object.assign({}, yb, { position: 'right', axisLabel: { show: false } }));

  seriesList.forEach(s => { s.xAxisIndex = xi; s.yAxisIndex = yi; option.series.push(s); });
  txt(left + 4, top + 7, '(' + spec.letter + ')', 8, true, 'left');
}

SC.forEach((sc, q) => {
  const dx = QUAD_OFF[q][0], dy = QUAD_OFF[q][1];
  // frame
  G.push({ type: 'rect', silent: true, shape: { x: dx ? 617.5 : 8.5, y: 6.5 + dy, width: 597, height: 576 },
    style: { fill: 'none', stroke: '#1a1a1a', lineWidth: 1 } });
  COL_TITLES.forEach((t, c) => txt(COL_X[c] + dx + PW / 2, 21 + dy, t, 10, true, 'center'));

  const series = [
    [profLines(UP_PROFILES, P_UP)],
    [band(P_UPERR, sc.up[1], sc.up[2]), dotted([[0, 0.01], [0, 1000]]), medLine(P_UPERR, sc.up[0])],
    [dotted([[0, 0], [400, 0]]), scatter(sc.toa)],
    [profLines(DN_PROFILES, P_DN)],
    [band(P_DNERR, sc.dn[1], sc.dn[2]), dotted([[0, 0.01], [0, 1000]]), medLine(P_DNERR, sc.dn[0])],
    [dotted([[0, 0], [600, 0]]), scatter(sc.sfc)],
    [profLines(sc.hr, P_HR)],
    [band(P_HRERR, sc.hre[1], sc.hre[2]), dotted([[0, 0.01], [0, 1000]]),
     dotted([[-1, 0.02], [1, 0.02]]), dotted([[-1, 4], [1, 4]]), medLine(P_HRERR, sc.hre[0])]
  ];
  PANELS.forEach((spec, k) => addPanel(q, spec, series[k]));

  // statistics text block
  const tx = 412 + dx;
  txt(tx, 415 + dy, 'Scenario: ' + sc.name, 10.5, true);
  txt(tx, 431 + dy, 'CKD model: ' + CKD_MODEL, 10.5, true);
  sc.stats.forEach((v, i) => {
    txt(tx, 445 + dy + i * 13.6, STAT_LABELS[i] + v.toFixed(STAT_DIGITS[i]) + STAT_UNITS[i], 8.5, false);
  });
});

const chart = echarts.init(document.getElementById('main'), null, { renderer: 'canvas' });
chart.setOption(option);
</script>
</body>
</html>
